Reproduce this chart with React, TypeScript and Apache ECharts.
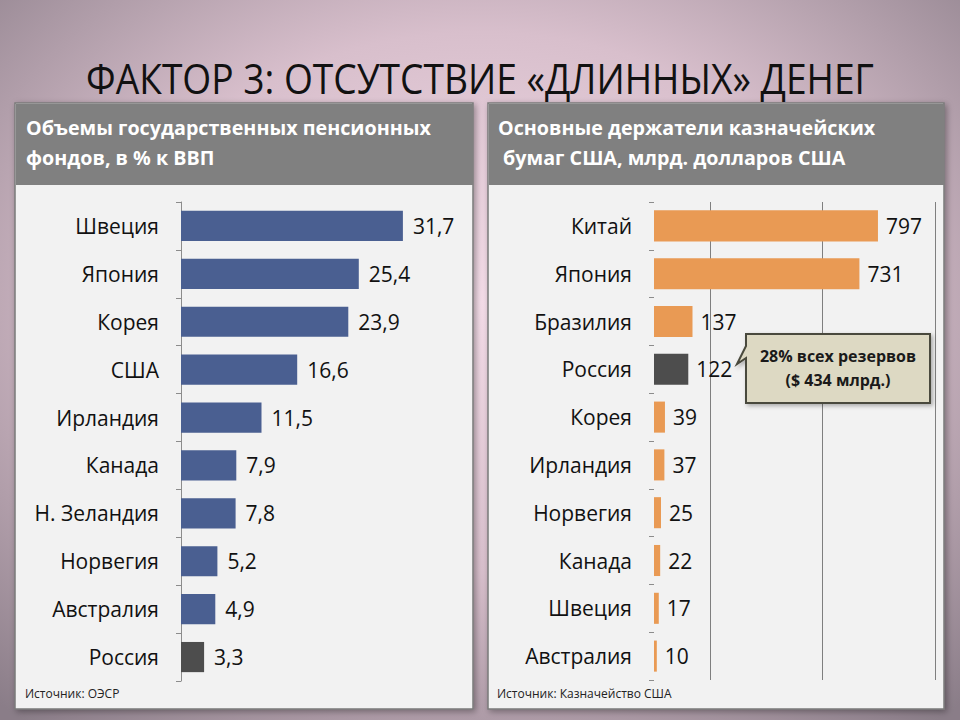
import React, { useEffect, useRef } from "react";
import * as echarts from "echarts";

const leftCategories = ["Швеция", "Япония", "Корея", "США", "Ирландия", "Канада", "Н. Зеландия", "Норвегия", "Австралия", "Россия"];
const leftValues = [31.7, 25.4, 23.9, 16.6, 11.5, 7.9, 7.8, 5.2, 4.9, 3.3];
const rightCategories = ["Китай", "Япония", "Бразилия", "Россия", "Корея", "Ирландия", "Норвегия", "Канада", "Швеция", "Австралия"];
const rightValues = [797, 731, 137, 122, 39, 37, 25, 22, 17, 10];
const rightGridValues = [200, 600, 1000];
const highlighted = "Россия";

const FONT = "'Open Sans', 'Noto Sans', sans-serif";

export default function App() {
  const ref = useRef<HTMLDivElement>(null);
  useEffect(() => {
    if (!ref.current) return;
    const chart = echarts.init(ref.current, undefined, { renderer: "svg" });
    const catAxisCommon = (data: string[], showLine: boolean) => ({
      type: "category",
      data,
      inverse: true,
      axisLine: { show: showLine, lineStyle: { color: "#8c8c8c", width: 1 } },
      axisTick: { show: true, length: 5, lineStyle: { color: "#8c8c8c" } },
      axisLabel: { color: "#111", fontSize: 21, fontFamily: FONT, margin: 22 },
    });
    chart.setOption({
      animation: false,
      graphic: [
        {
          type: "rect",
          z: -10,
          shape: { x: 0, y: 0, width: 960, height: 720 },
          style: {
            fill: new echarts.graphic.RadialGradient(0.5, 0.42, 0.75, [
              { offset: 0, color: "#f4dce8" },
              { offset: 0.5, color: "#d8bfcc" },
              { offset: 1, color: "#8a7d88" },
            ]),
          },
        },
        {
          type: "text",
          z: 5,
          x: 480,
          y: 78,
          scaleX: 0.885,
          style: {
            text: "ФАКТОР 3: ОТСУТСТВИЕ «ДЛИННЫХ» ДЕНЕГ",
            fontSize: 42,
            fontFamily: FONT,
            fill: "#111",
            align: "center",
            verticalAlign: "middle",
          },
        },
        // left panel
        {
          type: "rect",
          z: -5,
          shape: { x: 15, y: 103, width: 458, height: 606 },
          style: { fill: "#f2f2f2", stroke: "#7a7a7a", lineWidth: 1.5, shadowBlur: 6, shadowColor: "rgba(0,0,0,0.35)", shadowOffsetX: 2, shadowOffsetY: 2 },
        },
        { type: "rect", z: -4, shape: { x: 16, y: 104, width: 457, height: 81 }, style: { fill: "#808080" } },
        {
          type: "text",
          z: 5,
          x: 26,
          y: 112,
          style: {
            text: "Объемы государственных пенсионных\nфондов, в % к ВВП",
            fontSize: 19.7,
            fontWeight: "bold",
            lineHeight: 30,
            fontFamily: FONT,
            fill: "#ffffff",
          },
        },
        {
          type: "text",
          z: 5,
          x: 25,
          y: 693,
          style: { text: "Источник: ОЭСР", fontSize: 12, fontFamily: FONT, fill: "#222", verticalAlign: "middle" },
        },
        // right panel
        {
          type: "rect",
          z: -5,
          shape: { x: 488, y: 103, width: 456, height: 606 },
          style: { fill: "#f2f2f2", stroke: "#7a7a7a", lineWidth: 1.5, shadowBlur: 6, shadowColor: "rgba(0,0,0,0.35)", shadowOffsetX: 2, shadowOffsetY: 2 },
        },
        { type: "rect", z: -4, shape: { x: 489, y: 104, width: 455, height: 81 }, style: { fill: "#808080" } },
        {
          type: "text",
          z: 5,
          x: 498,
          y: 112,
          style: {
            text: "Основные держатели казначейских\n бумаг США, млрд. долларов США",
            fontSize: 19.7,
            fontWeight: "bold",
            lineHeight: 30,
            fontFamily: FONT,
            fill: "#ffffff",
          },
        },
        {
          type: "text",
          z: 5,
          x: 497,
          y: 693,
          style: { text: "Источник: Казначейство США", fontSize: 12, fontFamily: FONT, fill: "#222", verticalAlign: "middle" },
        },
        // callout
        {
          type: "polygon",
          z: 20,
          shape: {
            points: [
              [746, 334],
              [930, 334],
              [930, 403],
              [746, 403],
              [746, 358],
              [737, 364],
              [746, 346],
            ],
          },
          style: { fill: "#ddd9c3", stroke: "#4a4a3c", lineWidth: 2, shadowBlur: 4, shadowColor: "rgba(0,0,0,0.3)", shadowOffsetX: 2, shadowOffsetY: 2 },
        },
        {
          type: "text",
          z: 21,
          x: 838,
          y: 368,
          style: {
            text: "28% всех резервов\n($ 434 млрд.)",
            fontSize: 16,
            fontWeight: "bold",
            lineHeight: 24,
            fontFamily: FONT,
            fill: "#1a1a1a",
            align: "center",
            verticalAlign: "middle",
          },
        },
      ],
      grid: [
        { left: 181, top: 202, width: 245, height: 479, containLabel: false, outerBoundsMode: "none" },
        { left: 654, top: 202, width: 281, height: 478, containLabel: false, outerBoundsMode: "none" },
      ],
      xAxis: [
        { type: "value", gridIndex: 0, min: 0, max: 35, show: false, splitLine: { show: false } },
        { type: "value", gridIndex: 1, min: 0, max: 1000, show: false, splitLine: { show: false } },
      ],
      yAxis: [
        { ...catAxisCommon(leftCategories, true), gridIndex: 0 },
        { ...catAxisCommon(rightCategories, false), gridIndex: 1 },
      ],
      series: [
        {
          type: "bar",
          xAxisIndex: 0,
          yAxisIndex: 0,
          barCategoryGap: "37%",
          data: leftValues.map((v, i) => ({
            value: v,
            itemStyle: { color: leftCategories[i] === highlighted ? "#4d4d4d" : "#4a5f91" },
          })),
          label: {
            show: true,
            position: "right",
            distance: 10,
            color: "#111",
            fontSize: 21,
            fontFamily: FONT,
            formatter: (p: any) => String(p.value).replace(".", ","),
          },
        },
        {
          type: "bar",
          xAxisIndex: 1,
          yAxisIndex: 1,
          barCategoryGap: "35%",
          data: rightValues.map((v, i) => ({
            value: v,
            itemStyle: { color: rightCategories[i] === highlighted ? "#4d4d4d" : "#e99a54" },
          })),
          label: {
            show: true,
            position: "right",
            distance: 8,
            color: "#111",
            fontSize: 21,
            fontFamily: FONT,
          },
          markLine: {
            z: 1,
            silent: true,
            symbol: "none",
            label: { show: false },
            lineStyle: { color: "#7f7f7f", width: 1, type: "solid" },
            data: rightGridValues.map((v) => ({ xAxis: v })),
          },
        },
      ],
    });
    return () => chart.dispose();
  }, []);
  return <div ref={ref} style={{ position: "absolute", left: 0, top: 0, width: 960, height: 720 }} />;
}
